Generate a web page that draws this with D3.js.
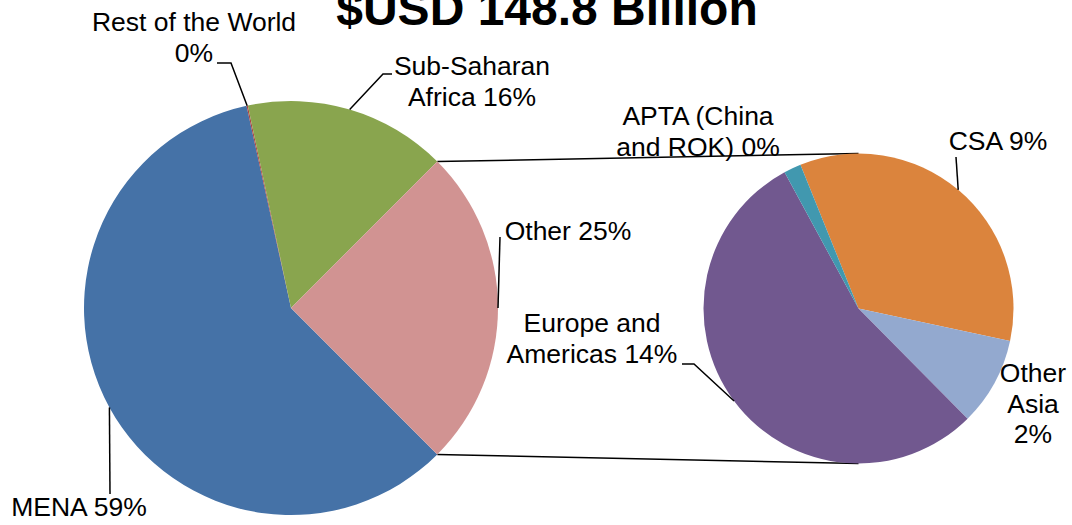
<!DOCTYPE html>
<html>
<head>
<meta charset="utf-8">
<script src="https://cdn.jsdelivr.net/npm/d3@7"></script>
<style>
  body { margin: 0; background: #fff; }
  svg { display: block; font-family: Arial, "Liberation Sans", sans-serif; }
</style>
</head>
<body>
<div id="chart"></div>
<script>
// Main pie data (share of total, %)
const mainNames = ["MENA", "Rest of the World", "Sub-Saharan Africa"];
const mainValues = [58.9, 0.1, 15.8];
const mainColors = ["#4572A7", "#AA4643", "#89A54E"];
const otherName = "Other";
const otherColor = "#D19392";

// Secondary pie: break-down of "Other"
const subNames = ["CSA", "Other Asia", "Europe and Americas", "APTA (China and ROK)"];
const subValues = [8.6, 2.3, 13.6, 0.45];
const subColors = ["#DB843D", "#93A9CF", "#71588F", "#4198AF"];

const title = "$USD 148.8 Billion";

const width = 1072, height = 525;
const main = { cx: 291, cy: 308, r: 207 };
const sub = { cx: 858.5, cy: 308.5, r: 155, start: -22 };

const svg = d3.select("#chart").append("svg")
  .attr("width", width)
  .attr("height", height);

const otherValue = d3.sum(subValues);
const total = d3.sum(mainValues) + otherValue;
const pct = v => Math.round(v / total * 100) + "%";

// Main pie: "Other" slice centred on the right-hand side, as Excel does
const mainData = mainNames.map((n, i) => ({ name: n, value: mainValues[i], color: mainColors[i] }))
  .concat([{ name: otherName, value: otherValue, color: otherColor }]);
const otherAngle = 2 * Math.PI * otherValue / total;
const mainStart = Math.PI / 2 + otherAngle / 2;
const mainArcs = d3.pie().sort(null).value(d => d.value)
  .startAngle(mainStart).endAngle(mainStart + 2 * Math.PI)(mainData);

const subData = subNames.map((n, i) => ({ name: n, value: subValues[i], color: subColors[i] }));
const subStart = sub.start * Math.PI / 180;
const subArcs = d3.pie().sort(null).value(d => d.value)
  .startAngle(subStart).endAngle(subStart + 2 * Math.PI)(subData);

const arcMain = d3.arc().innerRadius(0).outerRadius(main.r);
const arcSub = d3.arc().innerRadius(0).outerRadius(sub.r);

const onCircle = (c, a) => [c.cx + c.r * Math.sin(a), c.cy - c.r * Math.cos(a)];
const mid = d => (d.startAngle + d.endAngle) / 2;

// connector lines from the Other slice to the secondary pie
const otherArc = mainArcs[mainArcs.length - 1];
const pTop = onCircle(main, otherArc.startAngle);
const pBot = onCircle(main, otherArc.endAngle);
svg.append("g").selectAll("line")
  .data([[pTop, [sub.cx, sub.cy - sub.r]], [pBot, [sub.cx, sub.cy + sub.r]]])
  .enter().append("line")
  .attr("x1", d => d[0][0]).attr("y1", d => d[0][1])
  .attr("x2", d => d[1][0]).attr("y2", d => d[1][1])
  .attr("stroke", "#000").attr("stroke-width", 1.5);

svg.append("g").attr("transform", `translate(${main.cx},${main.cy})`)
  .selectAll("path").data(mainArcs).enter().append("path")
  .attr("d", arcMain)
  .attr("fill", d => d.data.color);

svg.append("g").attr("transform", `translate(${sub.cx},${sub.cy})`)
  .selectAll("path").data(subArcs).enter().append("path")
  .attr("d", arcSub)
  .attr("fill", d => d.data.color);

// Label layout: text lines, centre x, first baseline, leader elbow points
const labelLayout = {
  "MENA": { lines: ["MENA 59%"], x: 79, y: 516, leader: [[110, 494]] },
  "Rest of the World": { lines: ["Rest of the World", "0%"], x: 194, y: 31, leader: [[231, 63], [217, 63]] },
  "Sub-Saharan Africa": { lines: ["Sub-Saharan", "Africa 16%"], x: 472, y: 75, leader: [[383, 74], [392, 74]] },
  "Other": { lines: ["Other 25%"], x: 568, y: 240, leader: [[500, 237]] },
  "CSA": { lines: ["CSA 9%"], x: 998, y: 150, leader: [[956, 157]] },
  "Other Asia": { lines: ["Other", "Asia", "2%"], x: 1033, y: 382, leader: null },
  "Europe and Americas": { lines: ["Europe and", "Americas 14%"], x: 592, y: 332, leader: [[694, 364], [682, 364]] },
  "APTA (China and ROK)": { lines: ["APTA (China", "and ROK) 0%"], x: 698, y: 125, leader: null }
};

const labelItems = mainArcs.map(d => ({ d, c: main }))
  .concat(subArcs.map(d => ({ d, c: sub })));

const lab = svg.append("g");
labelItems.forEach(({ d, c }) => {
  const L = labelLayout[d.data.name];
  if (!L) return;
  const lines = L.lines.slice();
  lines[lines.length - 1] = lines[lines.length - 1].replace(/\d+%$/, pct(d.data.value));
  if (L.leader) {
    const pts = [onCircle(c, mid(d))].concat(L.leader);
    lab.append("path")
      .attr("d", d3.line()(pts))
      .attr("fill", "none").attr("stroke", "#000").attr("stroke-width", 1.5);
  }
  const t = lab.append("text")
    .attr("text-anchor", "middle")
    .attr("font-size", 26.5)
    .attr("fill", "#000");
  lines.forEach((s, i) => {
    t.append("tspan").attr("x", L.x).attr("y", L.y + i * 30.5).text(s);
  });
});

svg.append("text")
  .attr("x", 547).attr("y", 25)
  .attr("text-anchor", "middle")
  .attr("font-size", 48)
  .attr("font-weight", "bold")
  .text(title);
</script>
</body>
</html>
